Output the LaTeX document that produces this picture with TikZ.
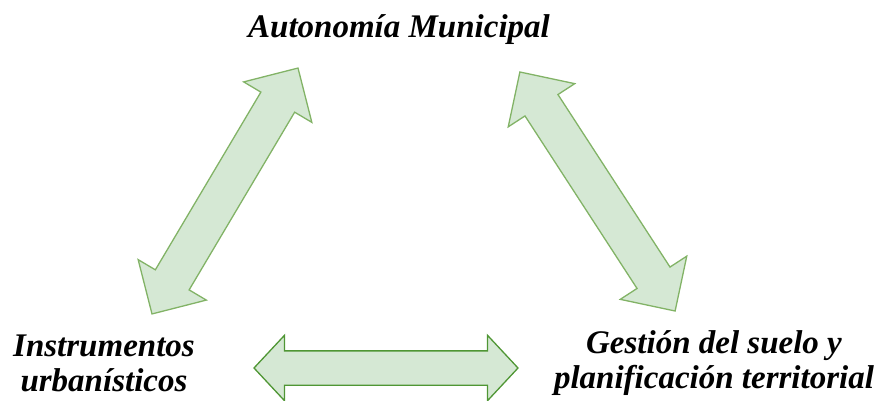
\documentclass[tikz,border=0pt]{standalone}
\usepackage{fontspec}
\setmainfont{Liberation Serif}
\usetikzlibrary{shapes.arrows}
\definecolor{arrowfill}{HTML}{D5E8D4}
\definecolor{arrowline}{HTML}{82B366}
\definecolor{arrowdark}{HTML}{4F9634}
\begin{document}
\begin{tikzpicture}[x=1pt,y=-1pt]
  \tikzstyle{every node}=[font=\fontsize{33}{35}\selectfont\bfseries\itshape]
  \tikzstyle{theme}=[align=center, inner sep=0pt]
  \tikzstyle{link}=[double arrow, fill=arrowfill, draw=arrowline, line width=1.3pt,
                    minimum width=0pt, double arrow tip angle=90]
  \useasboundingbox (0,0) rectangle (879,401);
  % texts
  \node[theme] (auto) at (399,30) {Autonomía Municipal};
  \node[theme] (inst) at (104,363) {Instrumentos\\urbanísticos};
  \node[theme] (gest) at (714,363) {Gestión del suelo y\\planificación territorial};
  % arrows
  \node[link, rotate=59.3, minimum height=286pt, inner sep=19pt,
        double arrow head extend=20pt] (la) at (225,191) {};
  \node[link, rotate=123, minimum height=285pt, inner sep=19pt,
        double arrow head extend=20pt] (ra) at (597.5,191.5) {};
  \node[link, draw=arrowdark, minimum height=264pt, inner sep=16.5pt,
        double arrow head extend=15.5pt, double arrow tip angle=94] (ba) at (386,368) {};
\end{tikzpicture}
\end{document}
